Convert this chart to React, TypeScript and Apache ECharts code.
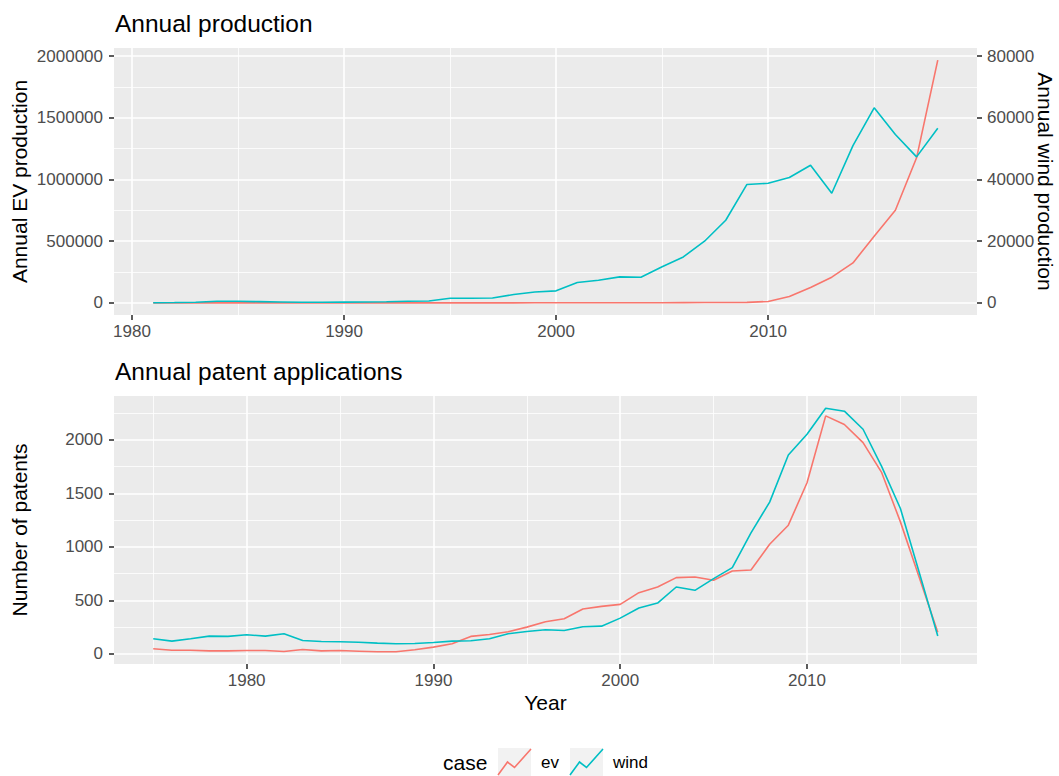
import React, { useEffect, useRef } from 'react';
import * as echarts from 'echarts';

const FONT = '"Liberation Sans", Arial, Helvetica, sans-serif';
const EV_COLOR = '#F8766D';
const WIND_COLOR = '#00BFC4';

const PROD_YEARS = [1981, 1982, 1983, 1984, 1985, 1986, 1987, 1988, 1989, 1990, 1991, 1992, 1993, 1994, 1995, 1996, 1997, 1998, 1999, 2000, 2001, 2002, 2003, 2004, 2005, 2006, 2007, 2008, 2009, 2010, 2011, 2012, 2013, 2014, 2015, 2016, 2017, 2018];
const EV_PRODUCTION = [0, 0, 0, 0, 0, 0, 0, 0, 0, 0, 0, 0, 0, 0, 0, 0, 100, 200, 500, 600, 700, 800, 900, 1000, 1500, 2000, 2500, 3000, 4000, 11000, 51000, 124000, 208000, 324000, 540000, 751000, 1176000, 1968000];
const WIND_PRODUCTION = [50, 100, 200, 500, 500, 400, 300, 200, 200, 250, 300, 350, 500, 600, 1500, 1500, 1600, 2700, 3500, 3900, 6600, 7350, 8430, 8320, 11700, 14900, 20000, 26800, 38400, 38800, 40650, 44650, 35550, 51000, 63250, 54600, 47350, 56650];

const PATENT_YEARS = [1975, 1976, 1977, 1978, 1979, 1980, 1981, 1982, 1983, 1984, 1985, 1986, 1987, 1988, 1989, 1990, 1991, 1992, 1993, 1994, 1995, 1996, 1997, 1998, 1999, 2000, 2001, 2002, 2003, 2004, 2005, 2006, 2007, 2008, 2009, 2010, 2011, 2012, 2013, 2014, 2015, 2016, 2017];
const EV_PATENTS = [47, 34, 34, 28, 28, 31, 31, 22, 41, 28, 31, 25, 19, 19, 38, 63, 94, 163, 181, 206, 250, 300, 328, 419, 444, 463, 572, 625, 713, 719, 688, 775, 784, 1025, 1203, 1600, 2225, 2144, 1975, 1694, 1234, 719, 203];
const WIND_PATENTS = [141, 119, 141, 166, 163, 178, 166, 188, 125, 116, 113, 109, 100, 94, 97, 106, 119, 122, 141, 188, 209, 225, 219, 253, 259, 334, 428, 475, 625, 594, 703, 806, 1131, 1419, 1859, 2053, 2297, 2269, 2100, 1750, 1359, 766, 166];

const PROD_X_TICKS = [1980, 1990, 2000, 2010];
const PROD_X_MINOR = [1985, 1995, 2005, 2015];
const EV_Y_TICKS = [0, 500000, 1000000, 1500000, 2000000];
const EV_Y_MINOR = [250000, 750000, 1250000, 1750000];
const WIND_Y_TICKS = [0, 20000, 40000, 60000, 80000];
const PAT_X_TICKS = [1980, 1990, 2000, 2010];
const PAT_X_MINOR = [1975, 1985, 1995, 2005, 2015];
const PAT_Y_TICKS = [0, 500, 1000, 1500, 2000];
const PAT_Y_MINOR = [250, 750, 1250, 1750, 2250];

const SEC_RATIO = 25; // wind axis = EV axis / 25

function expand(lo: number, hi: number): [number, number] {
  const d = (hi - lo) * 0.05;
  return [lo - d, hi + d];
}

function pairs(xs: number[], ys: number[]) {
  return xs.map((x, i) => [x, ys[i]]);
}

function majorAxis(gridIndex: number, range: [number, number], ticks: number[], margin: number, extra: any = {}) {
  return {
    type: 'value',
    gridIndex,
    min: range[0],
    max: range[1],
    axisLine: { show: false, onZero: false },
    axisTick: { show: true, customValues: ticks, length: 5, lineStyle: { color: '#333333', width: 1.6 } },
    axisLabel: {
      show: true,
      customValues: ticks,
      color: '#4D4D4D',
      fontSize: 17,
      fontFamily: FONT,
      margin,
      formatter: (v: number) => String(v),
    },
    splitLine: { show: true, lineStyle: { color: '#FFFFFF', width: 1.6 } },
    ...extra,
  };
}

function minorAxis(gridIndex: number, range: [number, number], ticks: number[]) {
  return {
    type: 'value',
    gridIndex,
    min: range[0],
    max: range[1],
    axisLine: { show: false, onZero: false },
    axisTick: { show: false, customValues: ticks },
    axisLabel: { show: false, customValues: ticks },
    splitLine: { show: true, lineStyle: { color: '#FFFFFF', width: 0.8 } },
  };
}

function lineSeries(name: string, color: string, xi: number, yi: number, data: number[][]) {
  return {
    name,
    type: 'line',
    xAxisIndex: xi,
    yAxisIndex: yi,
    data,
    symbol: 'none',
    showSymbol: false,
    lineStyle: { color, width: 1.6 },
    itemStyle: { color },
    z: 3,
  };
}

function txt(text: string, x: number, y: number, size: number, opts: any = {}) {
  return {
    type: 'text',
    x,
    y,
    rotation: opts.rotation || 0,
    silent: true,
    style: {
      text,
      fill: opts.color || '#000000',
      fontSize: size,
      fontFamily: FONT,
      align: opts.align || 'left',
      verticalAlign: 'middle',
    },
  };
}

export default function App() {
  const ref = useRef<HTMLDivElement>(null);

  useEffect(() => {
    if (!ref.current) return;
    const chart = echarts.init(ref.current, null, { renderer: 'svg' });

    const evMax = Math.max(...EV_PRODUCTION, ...WIND_PRODUCTION.map((v) => v * SEC_RATIO));
    const evMin = Math.min(...EV_PRODUCTION, ...WIND_PRODUCTION.map((v) => v * SEC_RATIO));
    const prodY = expand(evMin, evMax);
    const windY: [number, number] = [prodY[0] / SEC_RATIO, prodY[1] / SEC_RATIO];
    const prodX = expand(Math.min(...PROD_YEARS), Math.max(...PROD_YEARS));
    const patX = expand(Math.min(...PATENT_YEARS), Math.max(...PATENT_YEARS));
    const patY = expand(Math.min(...EV_PATENTS, ...WIND_PATENTS), Math.max(...EV_PATENTS, ...WIND_PATENTS));

    const option: any = {
      animation: false,
      backgroundColor: '#FFFFFF',
      textStyle: { fontFamily: FONT },
      grid: [
        { left: 114, top: 48, width: 863, height: 267, show: true, backgroundColor: '#EBEBEB', borderWidth: 0 },
        { left: 114, top: 396, width: 863, height: 268, show: true, backgroundColor: '#EBEBEB', borderWidth: 0 },
      ],
      xAxis: [
        majorAxis(0, prodX, PROD_X_TICKS, 8, { position: 'bottom' }),
        minorAxis(0, prodX, PROD_X_MINOR),
        majorAxis(1, patX, PAT_X_TICKS, 8, { position: 'bottom' }),
        minorAxis(1, patX, PAT_X_MINOR),
      ],
      yAxis: [
        majorAxis(0, prodY, EV_Y_TICKS, 11, { position: 'left' }),
        majorAxis(0, windY, WIND_Y_TICKS, 10, { position: 'right', splitLine: { show: false } }),
        minorAxis(0, prodY, EV_Y_MINOR),
        majorAxis(1, patY, PAT_Y_TICKS, 11, { position: 'left' }),
        minorAxis(1, patY, PAT_Y_MINOR),
      ],
      series: [
        lineSeries('ev', EV_COLOR, 0, 0, pairs(PROD_YEARS, EV_PRODUCTION)),
        lineSeries('wind', WIND_COLOR, 0, 1, pairs(PROD_YEARS, WIND_PRODUCTION)),
        lineSeries('ev', EV_COLOR, 2, 3, pairs(PATENT_YEARS, EV_PATENTS)),
        lineSeries('wind', WIND_COLOR, 2, 3, pairs(PATENT_YEARS, WIND_PATENTS)),
      ],
      graphic: [
        txt('Annual production', 115, 23.5, 24.5),
        txt('Annual patent applications', 115, 371, 24.5),
        txt('Annual EV production', 19, 181.5, 21, { align: 'center', rotation: Math.PI / 2 }),
        txt('Annual wind production', 1045.5, 181.5, 21, { align: 'center', rotation: -Math.PI / 2 }),
        txt('Number of patents', 19, 530, 21, { align: 'center', rotation: Math.PI / 2 }),
        txt('Year', 545.5, 702.5, 21, { align: 'center' }),
        txt('case', 443, 762, 21),
        { type: 'rect', silent: true, shape: { x: 498, y: 748, width: 33, height: 33 }, style: { fill: '#F2F2F2' } },
        {
          type: 'polyline',
          silent: true,
          shape: { points: [[498, 775], [507.5, 762], [514.5, 767.5], [531, 749]] },
          style: { stroke: EV_COLOR, lineWidth: 1.6, fill: null },
        },
        txt('ev', 541, 762.5, 17),
        { type: 'rect', silent: true, shape: { x: 570, y: 748, width: 33, height: 33 }, style: { fill: '#F2F2F2' } },
        {
          type: 'polyline',
          silent: true,
          shape: { points: [[570, 775], [579.5, 762], [586.5, 767.5], [603, 749]] },
          style: { stroke: WIND_COLOR, lineWidth: 1.6, fill: null },
        },
        txt('wind', 613, 762.5, 17),
      ],
    };

    chart.setOption(option);
    return () => chart.dispose();
  }, []);

  return (
    <div
      ref={ref}
      style={{ position: 'fixed', left: 0, top: 0, width: 1059, height: 776 }}
    />
  );
}
